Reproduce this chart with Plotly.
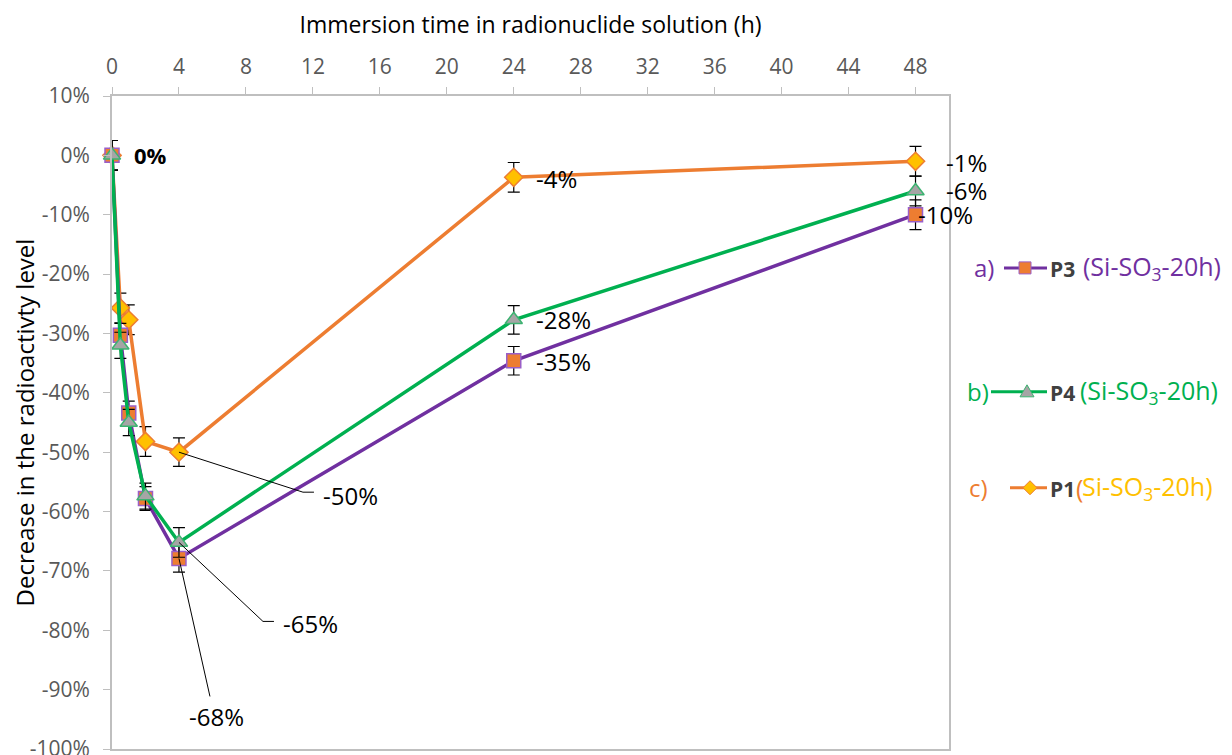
import plotly.graph_objects as go

# ---------------- data ----------------
time_h = [0, 0.5, 1, 2, 4, 24, 48]

p3_values = [0.0, -0.303, -0.434, -0.578, -0.679, -0.346, -0.100]
p3_errors = [0.025, 0.02, 0.02, 0.02, 0.023, 0.024, 0.025]

p4_values = [0.0, -0.320, -0.450, -0.574, -0.652, -0.277, -0.060]
p4_errors = [0.025, 0.022, 0.022, 0.022, 0.025, 0.024, 0.025]

p1_values = [0.0, -0.257, -0.277, -0.482, -0.500, -0.037, -0.010]
p1_errors = [0.025, 0.025, 0.025, 0.025, 0.024, 0.025, 0.025]

x_ticks = [0, 4, 8, 12, 16, 20, 24, 28, 32, 36, 40, 44, 48]
y_ticks = [0.1, 0.0, -0.1, -0.2, -0.3, -0.4, -0.5, -0.6, -0.7, -0.8, -0.9, -1.0]
y_ticklabels = ["10%", "0%", "-10%", "-20%", "-30%", "-40%", "-50%", "-60%",
                "-70%", "-80%", "-90%", "-100%"]

# ---------------- styles ----------------
PURPLE = "#7030A0"
PURPLE_LIGHT = "#9A5FC8"
GREEN = "#00B050"
GREEN_LIGHT = "#3CB371"
ORANGE = "#ED7D31"
GOLD = "#FFC000"
GRAY_MK = "#A5A5A5"
AXIS = "#BFBFBF"
TICKTXT = "#595959"
FONT = "Open Sans"

# the page body has an 8px margin: figure coordinates = page coordinates - 8
OFF = 8
W, H = 1232 - OFF, 755 - OFF
L, R, T, B = 112 - OFF, 949 - OFF, 96 - OFF, 749.4 - OFF


def px(xp):  # page pixel -> paper
    return (xp - OFF - L) / (R - L)


def py(yp):
    return (B - (yp - OFF)) / (B - T)


fig = go.Figure()


def add_series(vals, errs, lcolor, mcolor, mline, symbol, size):
    fig.add_trace(go.Scatter(
        x=time_h, y=vals, mode="lines+markers",
        line=dict(color=lcolor, width=3.5),
        marker=dict(symbol=symbol, size=size, color=mcolor,
                    line=dict(color=mline, width=1.5)),
        error_y=dict(type="data", array=errs, visible=True,
                     color="black", thickness=1.2, width=6),
        showlegend=False, cliponaxis=False))


add_series(p1_values, p1_errors, ORANGE, GOLD, ORANGE, "diamond", 14)
add_series(p3_values, p3_errors, PURPLE, ORANGE, PURPLE_LIGHT, "square", 14)
add_series(p4_values, p4_errors, GREEN, GRAY_MK, GREEN_LIGHT, "triangle-up", 15)

# ---------------- data labels ----------------
LAB = 24
lab_font = dict(family=FONT, size=LAB, color="black")
ann = []
ann.append(dict(x=time_h[0], y=p3_values[0], text="<b>0%</b>", xanchor="left",
                xshift=20, showarrow=False, font=dict(family=FONT, size=22, color="black")))
ann.append(dict(x=time_h[5], y=p1_values[5], text="-4%", xanchor="left",
                xshift=20, yshift=-1, showarrow=False, font=lab_font))
ann.append(dict(x=time_h[5], y=p4_values[5], text="-28%", xanchor="left",
                xshift=20, yshift=0, showarrow=False, font=lab_font))
ann.append(dict(x=time_h[5], y=p3_values[5], text="-35%", xanchor="left",
                xshift=20, yshift=-1, showarrow=False, font=lab_font))
ann.append(dict(x=time_h[6], y=p1_values[6], text="-1%", xanchor="left",
                xshift=28, yshift=-1, showarrow=False, font=lab_font))
ann.append(dict(x=time_h[6], y=p4_values[6], text="-6%", xanchor="left",
                xshift=28, showarrow=False, font=lab_font))
ann.append(dict(x=time_h[6], y=p3_values[6], text="-10%", xanchor="left",
                xshift=0, showarrow=False, font=lab_font))

# leader lines (pixel offsets anchored on the data points) + their labels
shapes = []


def leader(xv, yv, segs, text, tdx, tdy, anchor="left"):
    for (x0, y0, x1, y1) in segs:
        shapes.append(dict(type="line", xref="x", yref="y",
                           xsizemode="pixel", ysizemode="pixel",
                           xanchor=xv, yanchor=yv,
                           x0=x0, x1=x1, y0=-y0, y1=-y1,
                           line=dict(color="black", width=1)))
    ann.append(dict(x=xv, y=yv, text=text, xanchor=anchor, yanchor="middle",
                    xshift=tdx, yshift=-tdy, showarrow=False, font=lab_font))


leader(time_h[4], p1_values[4], [(0, 0, 124, 40), (124, 40, 135, 40)], "-50%", 142, 43)
leader(time_h[4], p4_values[4], [(0, 0, 84, 79), (84, 79, 95, 79)], "-65%", 102, 81)
leader(time_h[4], p3_values[4], [(0, 0, 31, 138)], "-68%", 38, 158, anchor="center")

# ---------------- custom legend ----------------
LEG = 25


def legend_item(yc, letter, lx, lcol, line_x0, line_x1, mk_x, mk_kind, mk_fill, mk_line,
                pname, parts):
    ann.append(dict(xref="paper", yref="paper", x=px(lx), y=py(yc), text=letter,
                    xanchor="left", yanchor="middle", showarrow=False,
                    font=dict(family=FONT, size=LEG - 1, color=lcol)))
    shapes.append(dict(type="line", xref="paper", yref="paper",
                       x0=px(line_x0), x1=px(line_x1), y0=py(yc), y1=py(yc),
                       line=dict(color=lcol, width=3)))
    s = 6
    if mk_kind == "square":
        shapes.append(dict(type="rect", xref="paper", yref="paper",
                           x0=px(mk_x - s), x1=px(mk_x + s), y0=py(yc + s), y1=py(yc - s),
                           fillcolor=mk_fill, line=dict(color=mk_line, width=1)))
    elif mk_kind == "triangle":
        path = "M {} {} L {} {} L {} {} Z".format(
            px(mk_x - 7), py(yc + 5), px(mk_x + 7), py(yc + 5), px(mk_x), py(yc - 7))
        shapes.append(dict(type="path", xref="paper", yref="paper", path=path,
                           fillcolor=mk_fill, line=dict(color=mk_line, width=1)))
    else:
        path = "M {} {} L {} {} L {} {} L {} {} Z".format(
            px(mk_x - 7), py(yc), px(mk_x), py(yc - 7), px(mk_x + 7), py(yc), px(mk_x), py(yc + 7))
        shapes.append(dict(type="path", xref="paper", yref="paper", path=path,
                           fillcolor=mk_fill, line=dict(color=mk_line, width=1)))
    ann.append(dict(xref="paper", yref="paper", x=px(line_x1 + 1), y=py(yc + 1),
                    text="<b>" + pname + "</b>",
                    xanchor="left", yanchor="middle", showarrow=False,
                    font=dict(family=FONT, size=21, color="#404040")))
    for text, col, tx in parts:
        ann.append(dict(xref="paper", yref="paper", x=px(tx), y=py(yc), text=text,
                        xanchor="left", yanchor="middle", showarrow=False,
                        font=dict(family=FONT, size=LEG, color=col)))


legend_item(268, "a)", 972, PURPLE, 1004, 1047, 1025, "square", ORANGE, PURPLE_LIGHT,
            "P3", [("(Si-SO<sub>3</sub>-20h)", PURPLE, 1081)])
legend_item(392, "b)", 965, GREEN, 991, 1047, 1027, "triangle", GRAY_MK, GREEN_LIGHT,
            "P4", [("(Si-SO<sub>3</sub>-20h)", GREEN, 1078)])
legend_item(488, "c)", 967, ORANGE, 1010, 1047, 1030, "diamond", GOLD, ORANGE,
            "P1", [("(", ORANGE, 1074), ("Si-SO<sub>3</sub>-20h)", GOLD, 1080)])

fig.update_layout(
    width=W, height=H,
    margin=dict(l=L, r=W - R, t=T, b=H - B, autoexpand=False),
    plot_bgcolor="white", paper_bgcolor="white",
    font=dict(family=FONT),
    annotations=ann, shapes=shapes,
    xaxis=dict(side="top", range=[0, 50], tickvals=x_ticks,
               ticktext=[str(v) for v in x_ticks], automargin=False,
               showgrid=False, zeroline=False, showline=True, linecolor=AXIS,
               linewidth=2, mirror=True, ticks="outside", tickcolor=AXIS, ticklen=7,
               ticklabelstandoff=5,
               tickfont=dict(family=FONT, size=21, color=TICKTXT),
               title=dict(text="Immersion time in radionuclide solution (h)",
                          font=dict(family=FONT, size=23, color="black"), standoff=12)),
    yaxis=dict(range=[-1.0, 0.1], tickvals=y_ticks, ticktext=y_ticklabels,
               automargin=False, ticklabeloverflow="allow", ticklabelstandoff=9,
               showgrid=False, zeroline=False, showline=True, linecolor=AXIS,
               linewidth=2, mirror=True, ticks="outside", tickcolor=AXIS, ticklen=7,
               tickfont=dict(family=FONT, size=21, color=TICKTXT),
               title=dict(text="Decrease in the radioactivty level",
                          font=dict(family=FONT, size=24, color="black"), standoff=0)),
)

fig.write_html("out.html")
